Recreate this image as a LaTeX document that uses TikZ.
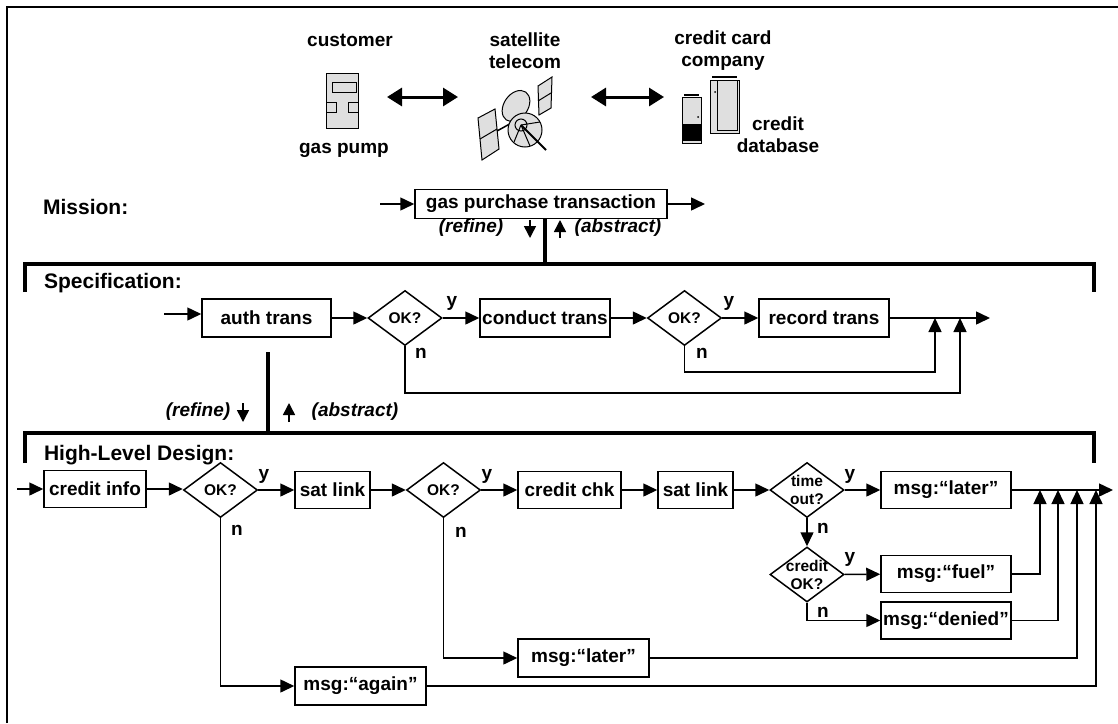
\documentclass[tikz,border=0pt]{standalone}
\usepackage{fontspec}
\setmainfont{Liberation Sans}
\usetikzlibrary{arrows.meta,shapes.geometric}

\begin{document}
\begin{tikzpicture}[x=0.5pt,y=-0.5pt,
    every node/.style={font=\bfseries\fontsize{9.5}{11}\selectfont},
    box/.style={draw, line width=0.75pt, inner sep=1pt, minimum height=18.5pt},
    dia/.style={diamond, draw, line width=0.75pt, inner sep=0pt, minimum width=37pt, minimum height=27.5pt},
    dtxt/.style={font=\bfseries\fontsize{7.75}{9}\selectfont, align=center},
    sec/.style={anchor=west, font=\bfseries\fontsize{10.5}{12}\selectfont},
    ital/.style={font=\bfseries\itshape\fontsize{9.5}{11}\selectfont},
    flow/.style={line width=0.75pt, ->, >={Triangle[length=7pt,width=6.5pt]}},
    refa/.style={line width=0.75pt, ->, >={Triangle[length=6pt,width=6pt]}},
    link/.style={line width=1.5pt, <->, >={Triangle[length=7.5pt,width=9pt]}},
    bar/.style={line width=1.8pt},
    icon/.style={draw, line width=0.5pt, fill=gray!25}]
    \useasboundingbox (0,0) rectangle (1118,723);
    \draw[line width=0.9pt] (7,723) -- (7,7) -- (1118,7);

    % actors
    \node (cust) at (350,40) {customer};
    \node (gpump) at (344,150) {gas pump};
    \node[align=center] (sat) at (525,51) {satellite\\telecom};
    \node[align=center] (ccc) at (723,51) {credit card\\company};
    \node[align=center] (cdb) at (778,135) {credit\\database};

    % gas pump
    \draw[icon] (326,73) rectangle (358,128);
    \draw[icon] (332,82) rectangle (356,92);
    \draw[line width=0.5pt] (326,102) rectangle (336,112) (348,102) rectangle (358,112);

    % satellite
    \draw[icon] (478,118) -- (495,109) -- (499,149) -- (482,160) -- cycle;
    \draw[line width=0.5pt] (480,139) -- (497,129);
    \draw[icon] (538,86) -- (552,77) -- (551,108) -- (539,115) -- cycle;
    \draw[line width=0.5pt] (538,101) -- (551,93);
    \draw[line width=0.75pt] (497,131) -- (515,121);
    \draw[icon, rotate around={-35:(516,106)}] (516,106) ellipse (12 and 17);
    \draw[icon] (525,130) circle (17);
    \draw[icon] (521,125) circle (6);
    \draw[line width=0.5pt] (521,125) -- (540,122) (521,125) -- (514,142) (521,125) -- (530,146);
    \draw[line width=0.9pt] (521,125) -- (546,150);

    % servers
    \draw[icon] (682,97) rectangle (701,143);
    \fill (682,124) rectangle (701,141);
    \draw[line width=0.9pt] (684,95) -- (699,95);
    \fill (698,117) circle (1);
    \draw[icon] (710,80) rectangle (739,133);
    \draw[icon] (717,80) rectangle (737,130);
    \draw[line width=0.9pt] (712,77) -- (737,77);
    \fill (715,92) circle (1);

    \coordinate (l1a) at (387,97);
    \coordinate (l1b) at (458,97);
    \coordinate (l2a) at (591,97);
    \coordinate (l2b) at (664,97);
    \draw[link] (l1a) -- (l1b);
    \draw[link] (l2a) -- (l2b);

    % mission
    \node[sec] (mis) at (36,207) {Mission:};
    \node[box, minimum width=126pt, minimum height=14.5pt] (gpt) at (541,204) {gas purchase transaction};
    \coordinate (gin) at (380,204);
    \coordinate (gout) at (705,204);
    \draw[flow] (gin) -- (gpt);
    \draw[flow] (gpt) -- (gout);

    \coordinate (rb1) at (545,264);
    \draw[bar] (gpt.south -| rb1) -- (rb1);
    \node[ital] (rf1) at (471,228) {(refine)};
    \node[ital] (ab1) at (618,228) {(abstract)};
    \draw[refa] (530,220) -- (530,238);
    \draw[refa] (560,238) -- (560,220);

    % specification
    \draw[bar] (25,292) -- (25,264) -- (1094,264) -- (1094,292);
    \node[sec] (spec) at (37,283) {Specification:};

    \node[box, minimum width=64.5pt, minimum height=19pt] (auth) at (266.5,318) {auth trans};
    \node[dia, label={[dtxt]center:OK?}] (ok1) at (405,318) {};
    \node[box, minimum width=65pt, minimum height=19pt] (cond) at (545,318) {conduct trans};
    \node[dia, label={[dtxt]center:OK?}] (ok2) at (684.5,318) {};
    \node[box, minimum width=65pt, minimum height=19pt] (rec) at (824,318) {record trans};

    \coordinate (sin) at (164,314);
    \coordinate (sout) at (990,318);
    \coordinate (j1) at (935,318);
    \coordinate (j2) at (960,318);
    \coordinate (lp1) at (960,393);
    \coordinate (lp2) at (935,372);
    \draw[flow] (sin) -- (sin -| auth.west);
    \draw[flow] (auth) -- (ok1);
    \draw[flow] (ok1) -- (cond);
    \draw[flow] (cond) -- (ok2);
    \draw[flow] (ok2) -- (rec);
    \draw[flow] (rec) -- (sout);
    \draw[flow] (ok2.south) |- (lp2) -- (j1);
    \draw[flow] (ok1.south) |- (lp1) -- (j2);
    \node (y1) at (452,303) {y};
    \node (n1) at (421,353) {n};
    \node (y2) at (729,303) {y};
    \node (n2) at (702,353) {n};

    \draw[bar] (268,352) -- (268,433);
    \node[ital] (rf2) at (198,412) {(refine)};
    \node[ital] (ab2) at (355,412) {(abstract)};
    \draw[refa] (243,403) -- (243,422);
    \draw[refa] (289,422) -- (289,403);

    % high-level design
    \draw[bar] (25,463) -- (25,433) -- (1094,433) -- (1094,463);
    \node[sec] (hld) at (37,455) {High-Level Design:};

    \node[box, minimum width=51pt] (cinfo) at (95,489) {credit info};
    \node[dia, label={[dtxt]center:OK?}] (okA) at (220.5,490) {};
    \node[box, minimum width=37.5pt] (sl1) at (332.5,490) {sat link};
    \node[dia, label={[dtxt]center:OK?}] (okB) at (443.5,490) {};
    \node[box, minimum width=51.5pt] (cchk) at (569.5,490) {credit chk};
    \node[box, minimum width=37.5pt] (sl2) at (695.5,490) {sat link};
    \node[dia, label={[dtxt]center:time\\out?}] (tout) at (807,490) {};
    \node[box, minimum width=65pt] (lat1) at (946,490) {msg:“later”};
    \node[dia, label={[dtxt]center:credit\\OK?}] (cok) at (807,574.5) {};
    \node[box, minimum width=65pt] (fuel) at (946,574) {msg:“fuel”};
    \node[box, minimum width=65pt] (den) at (946,620.5) {msg:“denied”};
    \node[box, minimum width=65.5pt, minimum height=19pt] (lat2) at (583.5,658) {msg:“later”};
    \node[box, minimum width=65.5pt, minimum height=19pt] (again) at (360.5,686) {msg:“again”};

    \coordinate (hin) at (17,489);
    \coordinate (hout) at (1113,490);
    \coordinate (k1) at (1040,490);
    \coordinate (k2) at (1058,490);
    \coordinate (k3) at (1077,490);
    \coordinate (k4) at (1096,490);
    \draw[flow] (hin) -- (cinfo);
    \draw[flow] (cinfo.east) -- (cinfo.east -| okA.west);
    \draw[flow] (okA) -- (sl1);
    \draw[flow] (sl1) -- (okB);
    \draw[flow] (okB) -- (cchk);
    \draw[flow] (cchk) -- (sl2);
    \draw[flow] (sl2) -- (tout);
    \draw[flow] (tout) -- (lat1);
    \draw[flow] (lat1) -- (hout);
    \draw[flow] (tout) -- (cok);
    \draw[flow] (cok) -- (fuel);
    \draw[flow] (cok.south) |- (den);
    \draw[flow] (okB.south) |- (lat2);
    \draw[flow] (okA.south) |- (again);
    \draw[flow] (fuel) -| (k1);
    \draw[flow] (den) -| (k2);
    \draw[flow] (lat2) -| (k3);
    \draw[flow] (again) -| (k4);

    \node (yA) at (264,476) {y};
    \node (nA) at (237,530) {n};
    \node (yB) at (487,476) {y};
    \node (nB) at (461,532) {n};
    \node (yT) at (850,476) {y};
    \node (nT) at (823,528) {n};
    \node (yC) at (850,559) {y};
    \node (nC) at (823,612) {n};
\end{tikzpicture}
\end{document}
